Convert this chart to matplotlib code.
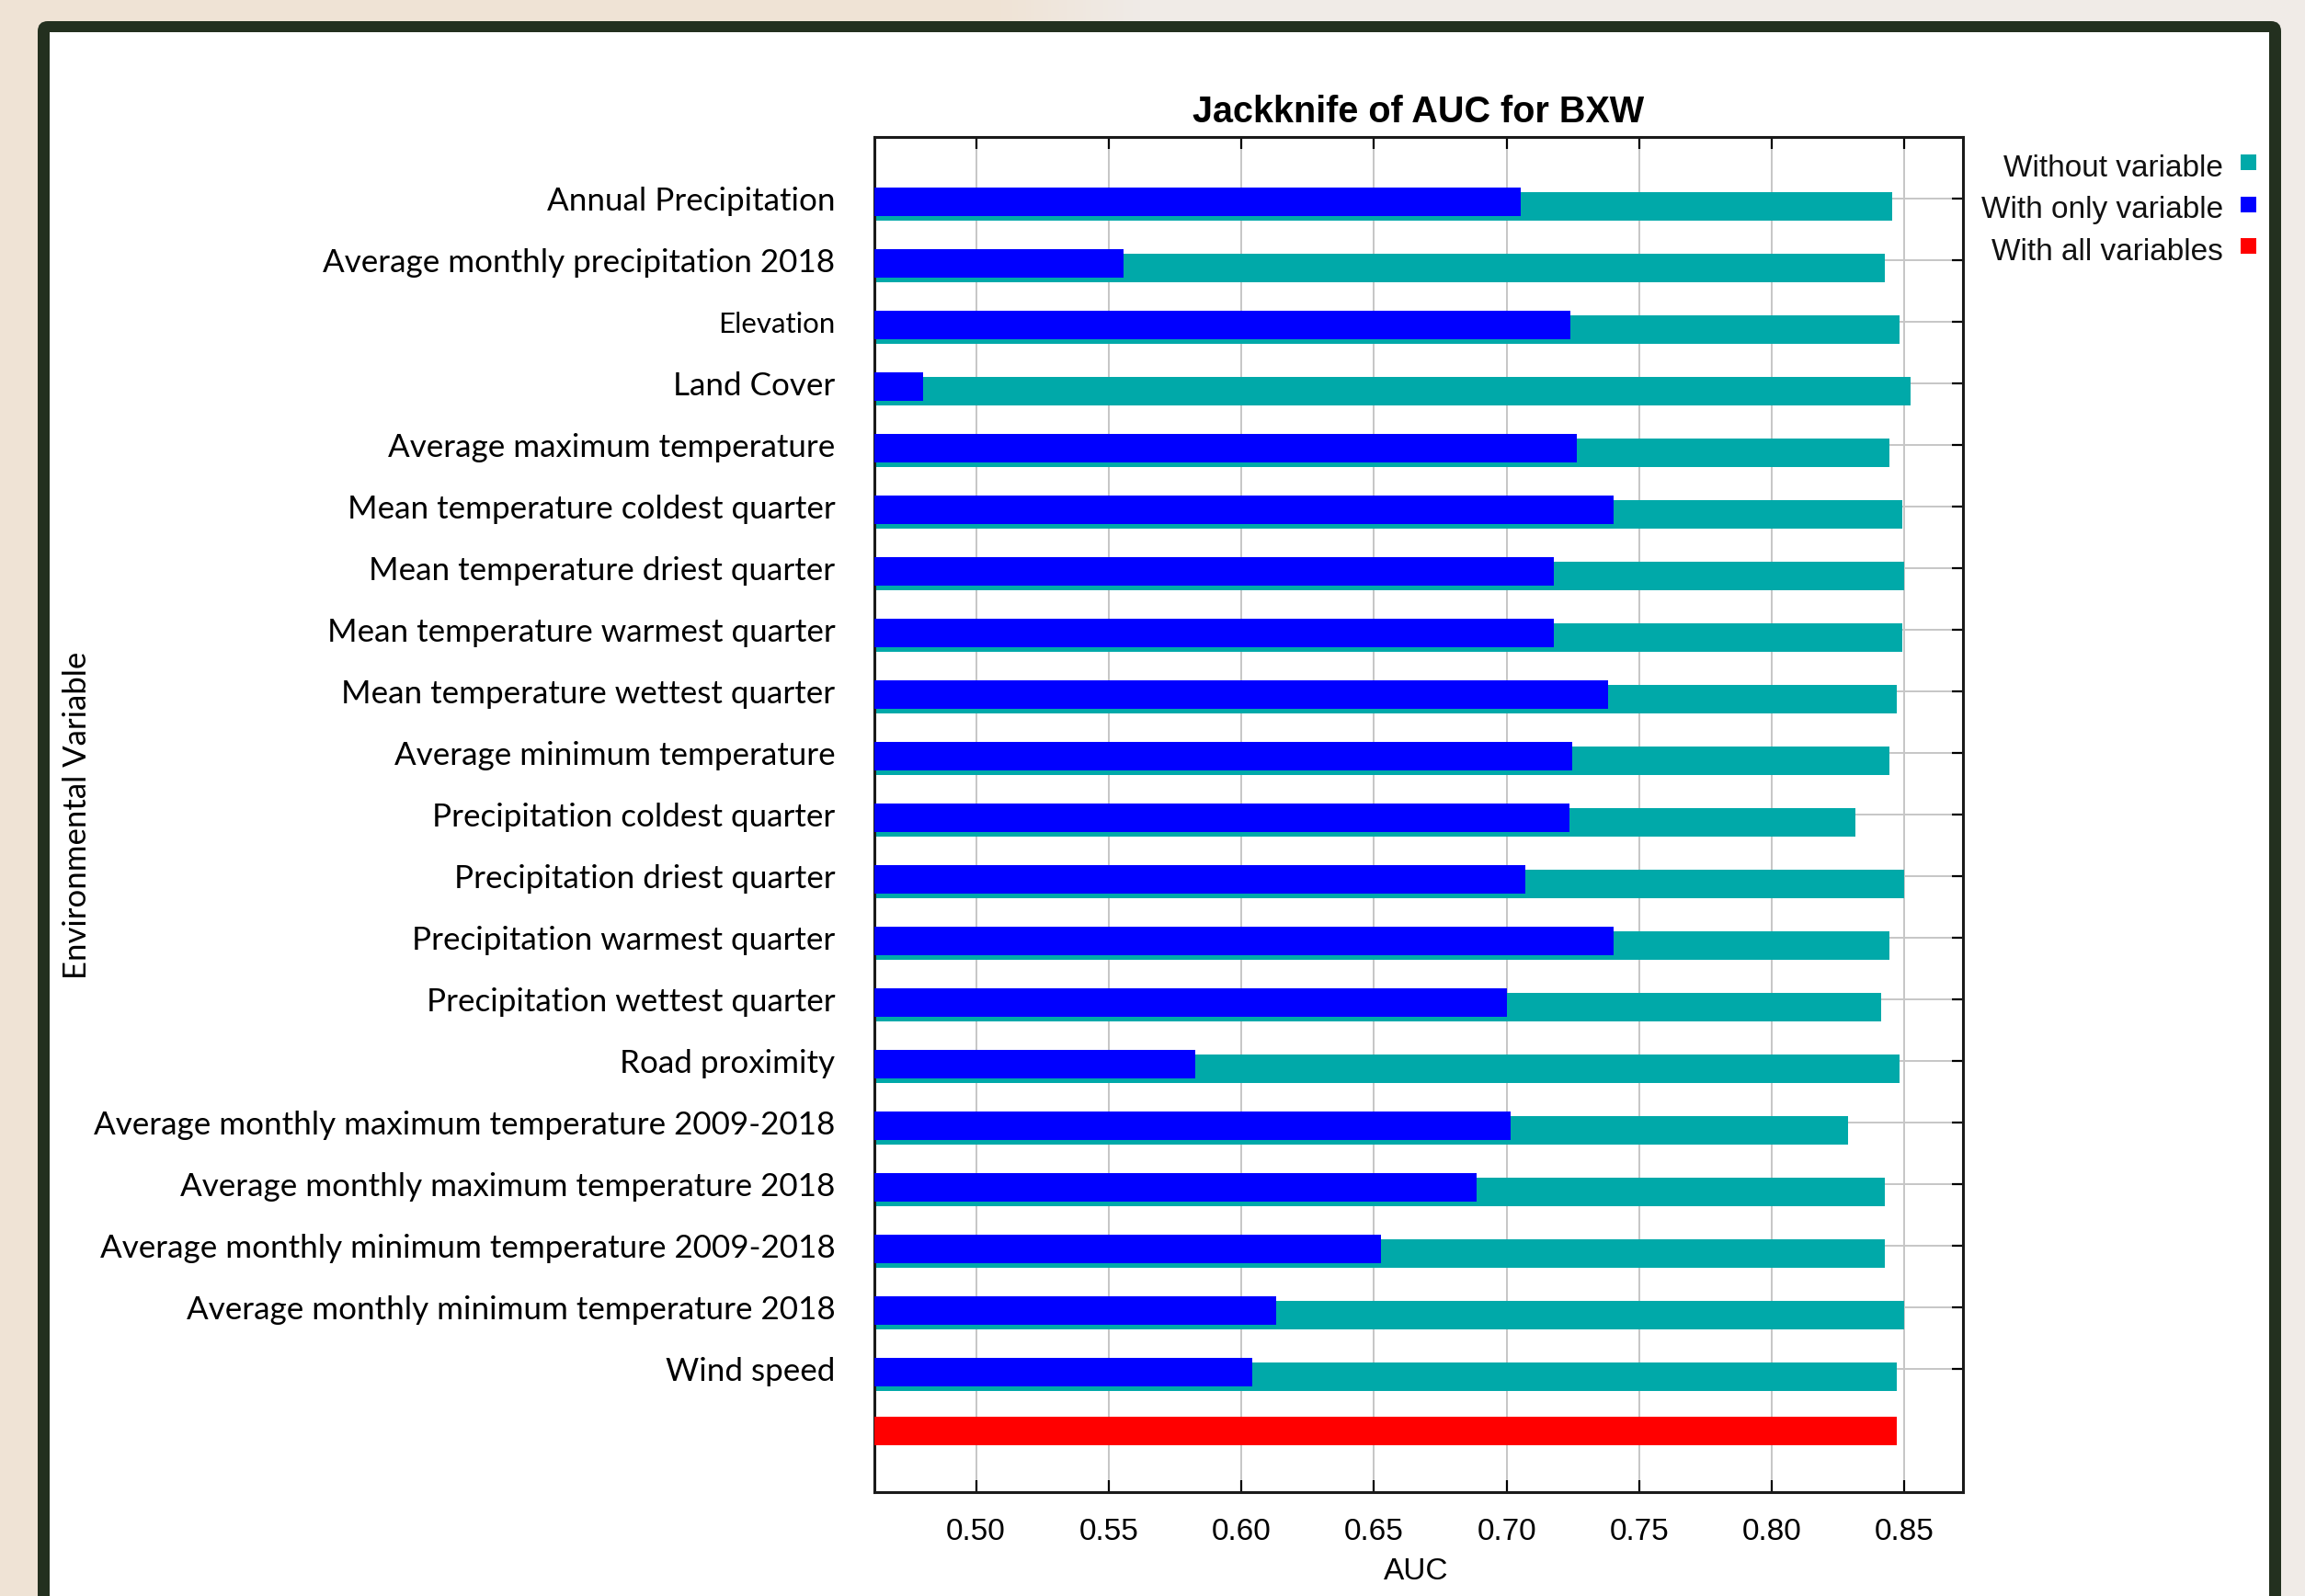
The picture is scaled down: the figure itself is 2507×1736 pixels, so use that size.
import numpy as np
import matplotlib
matplotlib.use("Agg")
import matplotlib.pyplot as plt
from matplotlib.patches import FancyBboxPatch, Rectangle

# ---- data -------------------------------------------------------------
variables = [
    "Annual Precipitation",
    "Average monthly precipitation 2018",
    "Elevation",
    "Land Cover",
    "Average maximum temperature",
    "Mean temperature coldest quarter",
    "Mean temperature driest quarter",
    "Mean temperature warmest quarter",
    "Mean temperature wettest quarter",
    "Average minimum temperature",
    "Precipitation coldest quarter",
    "Precipitation driest quarter",
    "Precipitation warmest quarter",
    "Precipitation wettest quarter",
    "Road proximity",
    "Average monthly maximum temperature 2009-2018",
    "Average monthly maximum temperature 2018",
    "Average monthly minimum temperature 2009-2018",
    "Average monthly minimum temperature 2018",
    "Wind speed",
]
auc_without = [0.8453, 0.8424, 0.8482, 0.8522, 0.8442, 0.8490, 0.8499, 0.8490,
               0.8470, 0.8442, 0.8315, 0.8499, 0.8442, 0.8413, 0.8482, 0.8286,
               0.8424, 0.8424, 0.8499, 0.8471]
auc_only = [0.7054, 0.5557, 0.7241, 0.4799, 0.7266, 0.7402, 0.7178, 0.7178,
            0.7381, 0.7246, 0.7238, 0.7071, 0.7402, 0.7002, 0.5827, 0.7014,
            0.6887, 0.6528, 0.6132, 0.6040]
auc_all = 0.8471
x_ticks = [0.50, 0.55, 0.60, 0.65, 0.70, 0.75, 0.80, 0.85]
legend_labels = ["Without variable", "With only variable", "With all variables"]

# ---- style --------------------------------------------------------------
TEAL = "#00A9A9"
BLUE = "#0000FF"
RED = "#FF0000"
FRAME = "#23301F"
GRID = "#c6c6c6"
W, H = 2507, 1736

fig = plt.figure(figsize=(W / 100, H / 100), dpi=100)

# backdrop in pixel units (x right, y down)
bg = fig.add_axes([0, 0, 1, 1])
bg.set_xlim(0, W)
bg.set_ylim(H, 0)
bg.axis("off")
beige = np.array([0xEF, 0xE3, 0xD5]) / 255
light = np.array([0xF0, 0xEB, 0xE7]) / 255
xs = np.arange(W)
t = np.clip((xs - 1080) / 160, 0, 1)[:, None]
row = beige * (1 - t) + light * t
bg.imshow(row[None, :, :], extent=[0, W, H, 0], aspect="auto", zorder=0)
bg.add_patch(FancyBboxPatch((41, 23), 2481 - 41, H + 60,
                            boxstyle="round,pad=0,rounding_size=11",
                            fc=FRAME, ec="none", zorder=1))
bg.add_patch(Rectangle((54, 35), 2468 - 54, H, fc="white", ec="none", zorder=2))

# ---- main chart ---------------------------------------------------------
ax = fig.add_axes([951.4 / W, 1 - 1623.3 / H, (2135.2 - 951.4) / W, (1623.3 - 149.3) / H])
n = len(variables)
rows = np.arange(n)
ax.barh(rows + 0.127, auc_without, height=0.463, color=TEAL, zorder=2)
ax.barh(rows + 0.045, auc_only, height=0.463, color=BLUE, zorder=3)
ax.barh([n], [auc_all], height=0.47, color=RED, zorder=3)

ax.set_xlim(0.4618, 0.8721)
ax.set_ylim(n + 1, -1)
ax.set_xticks(x_ticks)
ax.set_xticklabels([f"{v:.2f}" for v in x_ticks], family="Liberation Sans")
ax.set_yticks(rows)
ax.set_yticklabels(variables, family="Lato")
ax.set_axisbelow(True)
ax.grid(True, color=GRID, linewidth=1.4)

ax.tick_params(axis="x", direction="in", top=True, bottom=True, length=9.5,
               width=1.6, labelsize=24, pad=20, colors="black")
ax.tick_params(axis="y", direction="in", left=False, right=True, length=9,
               width=1.6, labelsize=25.2, pad=31, colors="black")
for lbl in ax.get_yticklabels():
    if lbl.get_text() == "Elevation":
        lbl.set_fontsize(22.5)
for sp in ax.spines.values():
    sp.set_linewidth(2.2)
    sp.set_color("#1a1a1a")


def fx(px):
    return px / W


def fy(py):
    return 1 - py / H


fig.text(fx(1543), fy(133), "Jackknife of AUC for BXW", ha="center", va="baseline",
         fontsize=28.5, fontweight="bold", family="Liberation Sans")
fig.text(fx(1540), fy(1709), "AUC", ha="center", va="center",
         fontsize=24, family="Liberation Sans")
fig.text(fx(84), fy(887), "Environmental Variable", rotation=90, ha="center",
         va="center", fontsize=25, family="Lato")

# legend: right-aligned labels with a colour square on their right
for label, color, base in zip(legend_labels, [TEAL, BLUE, RED], [191.7, 237.3, 282.7]):
    fig.text(fx(2418), fy(base), label, ha="right", va="baseline",
             fontsize=24, family="Liberation Sans", color="#111111")
    bg.add_patch(Rectangle((2437, base - 23.5), 17, 17, fc=color, ec="none", zorder=3))

fig.savefig("out.png", dpi=100)
